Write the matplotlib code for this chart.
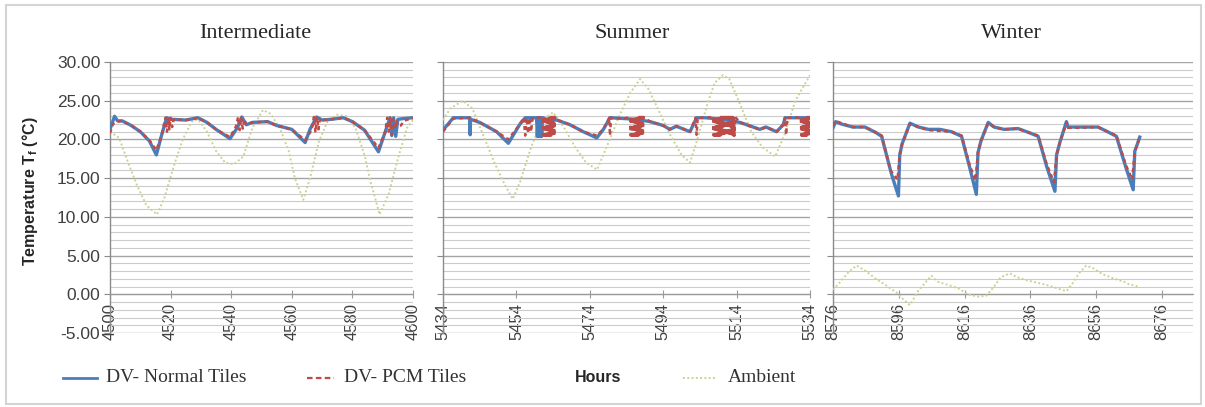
import numpy as np
import matplotlib
matplotlib.use("Agg")
import matplotlib.pyplot as plt
from matplotlib.lines import Line2D
from matplotlib.patches import Rectangle

# Intermediate season (hours 4500-4600)
int_h_normal = [4500, 4501.5, 4502.5, 4504, 4507, 4510, 4513, 4515.3, 4517, 4518.7, 4520, 4525, 4529, 4532,
                4535, 4539.6, 4542, 4543.5, 4545, 4547, 4552, 4555, 4560, 4564.4, 4566, 4568.2, 4570, 4573,
                4577, 4580, 4584, 4588.6, 4590.5, 4592.4, 4593, 4593.6, 4594.3, 4595, 4597, 4600]
int_normal = [21.3, 23.0, 22.4, 22.4, 21.8, 21.0, 19.8, 18.0, 20.5, 22.8, 22.6, 22.5, 22.8, 22.2,
              21.3, 20.1, 21.5, 22.9, 21.9, 22.2, 22.3, 21.8, 21.3, 19.6, 21.3, 22.9, 22.5, 22.6,
              22.8, 22.3, 21.2, 18.4, 20.6, 22.8, 20.5, 22.8, 20.4, 22.6, 22.7, 22.8]
int_h_pcm = [4500, 4501, 4502.5, 4504, 4507, 4510, 4513, 4515.3, 4517, 4518.3, 4518.8, 4519.2, 4519.6, 4520,
             4520.5, 4521, 4525, 4529, 4532, 4535, 4539.6, 4541.5, 4542.3, 4542.8, 4543.3, 4543.8, 4544.3,
             4545, 4547, 4552, 4555, 4560, 4564.4, 4566.5, 4567.3, 4567.8, 4568.3, 4568.8, 4569.3, 4570,
             4573, 4577, 4580, 4584, 4588.6, 4590.8, 4591.5, 4592, 4592.5, 4593, 4593.5, 4594, 4594.5,
             4595, 4596, 4597, 4600]
int_pcm = [20.8, 22.0, 22.3, 22.4, 21.8, 21.0, 19.9, 18.6, 20.5, 22.8, 21.0, 22.8, 21.3, 22.8,
           21.6, 22.6, 22.5, 22.8, 22.2, 21.3, 20.3, 21.6, 22.9, 21.2, 22.8, 21.4, 22.6,
           21.9, 22.2, 22.3, 21.8, 21.3, 19.9, 21.2, 22.9, 20.9, 22.8, 21.3, 22.7, 22.5,
           22.6, 22.8, 22.3, 21.2, 18.9, 20.9, 22.8, 21.0, 22.8, 20.6, 22.6, 21.3, 22.5,
           21.8, 21.8, 22.4, 22.8]
int_h_amb = [4500, 4503, 4506, 4509, 4512, 4515.5, 4518, 4521, 4524, 4527, 4529, 4532, 4535, 4538, 4541,
             4544, 4547, 4550.5, 4553, 4556, 4559, 4561, 4563.8, 4566, 4569, 4572, 4575, 4578, 4581,
             4584, 4586, 4589, 4592, 4595, 4598, 4600]
int_amb = [21.0, 20.2, 17.0, 14.0, 11.5, 10.3, 12.5, 16.5, 20.0, 22.3, 22.6, 21.0, 18.5, 17.0, 16.8,
           17.8, 21.5, 23.8, 23.3, 21.5, 18.5, 15.0, 12.2, 15.0, 19.8, 22.5, 23.2, 23.0, 21.5,
           18.0, 14.5, 10.3, 13.0, 17.5, 21.5, 22.5]

# Summer season (hours 5434-5534)
sum_h_normal = [5434, 5436.8, 5441.3, 5441.4, 5441.5, 5444, 5448.6, 5451.8, 5455, 5456.4, 5459.5, 5459.7,
                5459.9, 5460.1, 5460.3, 5460.5, 5460.7, 5460.9, 5461.1, 5461.3, 5462, 5465, 5468.6, 5472.2,
                5475.9, 5477.7, 5479.5, 5483.2, 5486.5, 5490.4, 5494, 5495.8, 5497.6, 5501.3, 5503.1,
                5505.5, 5510, 5514.9, 5518.5, 5520.3, 5522, 5524.9, 5526.7, 5527.2, 5530.4, 5534]
sum_normal = [21.2, 22.8, 22.8, 20.6, 22.6, 22.2, 21.0, 19.5, 22.0, 22.8, 22.8, 20.4,
              22.8, 20.4, 22.8, 20.4, 22.8, 20.4, 22.8, 22.8, 22.6, 22.5, 21.9, 21.0,
              20.2, 21.3, 22.8, 22.7, 22.6, 22.3, 21.8, 21.3, 21.7, 21.0, 22.8,
              22.8, 22.6, 22.2, 21.6, 21.3, 21.6, 21.0, 21.9, 22.8, 22.8, 22.8]
sum_h_pcm = [5434, 5436.8, 5441.3, 5444, 5448.6, 5451.8, 5455, 5456.0, 5456.4, 5456.8, 5457.2, 5457.6,
             5458.0, 5458.4, 5459.5,
             5461.20, 5461.35, 5461.50, 5461.65, 5461.80, 5461.95, 5462.10, 5462.25, 5462.40, 5462.55,
             5462.70, 5462.85, 5463.00, 5463.15, 5463.30, 5463.45, 5463.60, 5463.75, 5463.90, 5464.05,
             5464.20, 5464.35, 5464.50, 5464.8,
             5468.6, 5472.2, 5475.9, 5477.7, 5479.3, 5479.5, 5479.8, 5483.2,
             5485.00, 5485.15, 5485.30, 5485.45, 5485.60, 5485.75, 5485.90, 5486.05, 5486.20, 5486.35,
             5486.50, 5486.65, 5486.80, 5486.95, 5487.10, 5487.25, 5487.40, 5487.55, 5487.70, 5487.85,
             5488.00, 5488.15, 5488.30, 5488.45, 5488.60,
             5490.4, 5494, 5495.8, 5497.6, 5501.3, 5502.8, 5503.1, 5503.4, 5505.5,
             5507.60, 5507.75, 5507.90, 5508.05, 5508.20, 5508.35, 5508.50, 5508.65, 5508.80, 5508.95,
             5509.10, 5509.25, 5509.40, 5509.55, 5509.70, 5509.85, 5510.00, 5510.15, 5510.30, 5510.45,
             5510.60, 5510.75, 5510.90, 5511.05, 5511.20, 5511.35, 5511.50, 5511.65, 5511.80, 5511.95,
             5512.10, 5512.25, 5512.40, 5512.55, 5512.70, 5512.85, 5513.00, 5513.15, 5513.30, 5513.45,
             5513.60,
             5514.9, 5518.5, 5520.3, 5522, 5524.9, 5526.7, 5527.2, 5527.5, 5527.8, 5530.4,
             5531.50, 5531.65, 5531.80, 5531.95, 5532.10, 5532.25, 5532.40, 5532.55, 5532.70, 5532.85,
             5533.00, 5533.15, 5533.30, 5533.45, 5533.60, 5533.75, 5533.90, 5534]
sum_pcm = [21.0, 22.7, 22.8, 22.2, 21.0, 20.0, 22.0, 22.8, 20.5, 22.8, 20.8, 22.8,
           21.0, 22.7, 22.8,
           22.9, 20.5, 22.9, 20.5, 22.9, 20.5, 22.9, 20.5, 22.9, 20.5,
           22.9, 20.5, 22.9, 20.5, 22.9, 20.5, 22.9, 20.5, 22.9, 20.5,
           22.9, 20.5, 22.9, 22.6,
           21.9, 21.0, 20.5, 21.3, 22.8, 20.5, 22.8, 22.7,
           22.9, 20.5, 22.9, 20.5, 22.9, 20.5, 22.9, 20.5, 22.9, 20.5,
           22.9, 20.5, 22.9, 20.5, 22.9, 20.5, 22.9, 20.5, 22.9, 20.5,
           22.9, 20.5, 22.9, 20.5, 22.9,
           22.3, 21.8, 21.3, 21.7, 21.0, 22.8, 20.6, 22.8, 22.8,
           22.9, 20.5, 22.9, 20.5, 22.9, 20.5, 22.9, 20.5, 22.9, 20.5,
           22.9, 20.5, 22.9, 20.5, 22.9, 20.5, 22.9, 20.5, 22.9, 20.5,
           22.9, 20.5, 22.9, 20.5, 22.9, 20.5, 22.9, 20.5, 22.9, 20.5,
           22.9, 20.5, 22.9, 20.5, 22.9, 20.5, 22.9, 20.5, 22.9, 20.5,
           22.9,
           22.2, 21.6, 21.3, 21.6, 21.0, 21.9, 22.8, 20.6, 22.8, 22.8,
           22.9, 20.5, 22.9, 20.5, 22.9, 20.5, 22.9, 20.5, 22.9, 20.5,
           22.9, 20.5, 22.9, 20.5, 22.9, 20.5, 22.9, 20.6]
sum_h_amb = [5434, 5436, 5439.4, 5442, 5445, 5448, 5451, 5453, 5455, 5458, 5461, 5464, 5467, 5470, 5473,
             5476, 5479, 5482, 5485, 5487.7, 5490, 5493, 5496, 5499, 5501.3, 5503, 5506, 5508, 5510.3,
             5512, 5515, 5518, 5521, 5524.5, 5527, 5530, 5534]
sum_amb = [22.5, 24.0, 25.0, 24.0, 20.5, 17.0, 14.0, 12.3, 14.5, 19.0, 22.5, 23.5, 21.5, 19.0, 17.0,
           16.1, 19.5, 23.0, 26.0, 27.8, 26.5, 23.5, 20.5, 18.0, 17.0, 19.5, 24.5, 27.3, 28.3,
           27.8, 24.5, 21.0, 19.0, 17.8, 20.5, 25.0, 28.3]

# Winter season (hours 8576-8676)
win_h_normal = [8576, 8576.8, 8578.5, 8582, 8585.7, 8589, 8590.8, 8593.8, 8595.9, 8596.3, 8597, 8599.4,
                8602, 8605, 8608.5, 8612, 8615.1, 8617.5, 8619.6, 8620.1, 8621, 8623.2, 8625, 8628,
                8632.3, 8635.5, 8638.4, 8641, 8643.5, 8644, 8645, 8647, 8647.5, 8650, 8656.6, 8659.5,
                8662.2, 8665, 8667.3, 8667.8, 8668.5, 8669.3]
win_normal = [21.5, 22.3, 22.0, 21.6, 21.6, 20.9, 20.4, 15.5, 12.7, 18.0, 19.4, 22.1,
              21.6, 21.3, 21.3, 21.0, 20.4, 16.5, 12.9, 18.3, 19.8, 22.2, 21.6, 21.3,
              21.4, 20.9, 20.4, 16.5, 13.3, 18.0, 19.6, 22.3, 21.6, 21.6, 21.6, 21.0,
              20.4, 16.5, 13.5, 18.5, 19.3, 20.3]
win_h_pcm = [8576, 8576.8, 8578.5, 8582, 8585.7, 8589, 8590.8, 8593.5, 8595.6, 8596.3, 8597, 8599.4,
             8602, 8605, 8608.5, 8612, 8615.1, 8617.5, 8619.3, 8620.1, 8621, 8623.2, 8625, 8628,
             8632.3, 8635.5, 8638.4, 8641, 8643.2, 8644, 8645, 8647, 8647.5, 8650, 8656.6, 8659.5,
             8662.2, 8665, 8667.0, 8667.8, 8668.5, 8669.3]
win_pcm = [21.8, 22.4, 22.1, 21.6, 21.6, 20.9, 20.5, 16.0, 14.8, 18.0, 19.4, 22.0,
           21.6, 21.2, 21.1, 21.0, 20.5, 16.8, 14.7, 18.3, 19.8, 22.1, 21.6, 21.3,
           21.4, 20.9, 20.5, 16.8, 14.5, 18.0, 19.6, 22.2, 21.5, 21.5, 21.6, 21.0,
           20.5, 16.8, 14.8, 18.5, 19.3, 20.3]
win_h_amb = [8576, 8578, 8581, 8583.2, 8586, 8589, 8592, 8595.4, 8597, 8599.4, 8602, 8605.9, 8608, 8611,
             8614, 8617, 8620, 8622.6, 8625, 8627, 8629.8, 8632, 8635, 8638, 8641, 8644, 8647, 8649,
             8651, 8653, 8655, 8658, 8661, 8664.6, 8666, 8668.8]
win_amb = [0.6, 1.5, 3.0, 3.7, 3.0, 2.0, 1.2, 0.2, -0.5, -1.4, 0.5, 2.4, 1.6, 1.2,
           0.8, 0.0, -0.3, -0.2, 1.0, 2.2, 2.7, 2.2, 1.8, 1.5, 1.2, 0.8, 0.4, 1.5,
           2.8, 3.7, 3.4, 2.6, 2.1, 1.6, 1.3, 1.0]

titles = ["Intermediate", "Summer", "Winter"]
x_starts = [4500, 5434, 8576]
x_limits = [(4500, 4600), (5434, 5534), (8576, 8685.5)]

NORMAL = "#4a7ebb"
PCM = "#be4b48"
AMB = "#cbd296"
GRID_MAJOR = "#a4a4a4"
GRID_MINOR = "#cbcbcb"
TXT = "#404040"
DASH = (0, (1.6, 1.4))

W, H = 1205, 407


def fx(x):
    return x / W


def fy(y):
    return 1 - y / H


fig = plt.figure(figsize=(W / 100, H / 100), dpi=100)

# axes boxes in pixels: left, right; all share top (30) at y=62 and bottom (-5) at y=333
boxes = [(110, 413), (443, 810), (833, 1193)]
title_x = [255, 632, 1011]
series = [
    (int_h_normal, int_normal, int_h_pcm, int_pcm, int_h_amb, int_amb),
    (sum_h_normal, sum_normal, sum_h_pcm, sum_pcm, sum_h_amb, sum_amb),
    (win_h_normal, win_normal, win_h_pcm, win_pcm, win_h_amb, win_amb),
]

for i, (x0, x1) in enumerate(boxes):
    ax = fig.add_axes([fx(x0), fy(333), (x1 - x0) / W, (333 - 62) / H])
    hn, tn, hp, tp, ha, ta = series[i]
    ax.plot(ha, ta, color=AMB, lw=1.4, ls=(0, (1, 1.2)), zorder=3)
    ax.plot(hn, tn, color=NORMAL, lw=2.4, zorder=4)
    ax.plot(hp, tp, color=PCM, lw=1.8, ls=DASH, zorder=5)

    ax.set_xlim(*x_limits[i])
    ax.set_ylim(-5, 30)
    ax.set_yticks(np.arange(-5, 31, 5))
    ax.set_yticks(np.arange(-5, 31, 1), minor=True)
    ax.grid(axis="y", which="major", color=GRID_MAJOR, lw=1.0)
    ax.grid(axis="y", which="minor", color=GRID_MINOR, lw=0.8)
    ax.set_axisbelow(True)
    ax.set_xticks(np.arange(x_starts[i], x_starts[i] + 101, 20))

    for s in ["top", "right"]:
        ax.spines[s].set_visible(False)
    ax.spines["bottom"].set_position(("data", 0))
    ax.spines["bottom"].set_color("#9a9a9a")
    ax.spines["left"].set_color("#8a8a8a")
    ax.spines["left"].set_linewidth(1.0)

    ax.tick_params(axis="y", which="minor", length=0)
    ax.tick_params(axis="y", which="major", direction="out", length=4, color="#8a8a8a",
                   labelsize=12.5, labelcolor=TXT, pad=3, labelleft=(i == 0))
    ax.tick_params(axis="x", direction="inout", length=6, color="#9a9a9a",
                   labelsize=12, labelcolor=TXT, pad=3, labelrotation=90)
    if i == 0:
        ax.set_yticklabels(["%.2f" % v for v in np.arange(-5, 31, 5)])
    for lab in ax.get_xticklabels() + ax.get_yticklabels():
        lab.set_fontfamily("Liberation Sans")
    ax.patch.set_alpha(0)

    fig.text(fx(title_x[i]), fy(33), titles[i], ha="center", va="center",
             fontfamily="Liberation Serif", fontsize=16, color="#262626")

fig.text(fx(30), fy(191), "Temperature T$_\\mathregular{f}$ (°C)", rotation=90,
         ha="center", va="center", fontfamily="Liberation Sans", fontweight="bold",
         fontsize=11.5, color="#262626")

# legend row along the bottom
fig.add_artist(Line2D([fx(63), fx(97)], [fy(378), fy(378)], color=NORMAL, lw=2.0))
fig.text(fx(106), fy(378), "DV- Normal Tiles", va="center", fontfamily="Liberation Serif",
         fontsize=14, color="#333333")
fig.add_artist(Line2D([fx(307), fx(334)], [fy(378), fy(378)], color=PCM, lw=1.6,
                      ls=(0, (2.5, 1.5))))
fig.text(fx(344), fy(378), "DV- PCM Tiles", va="center", fontfamily="Liberation Serif",
         fontsize=14, color="#333333")
fig.text(fx(598), fy(378), "Hours", ha="center", va="center", fontfamily="Liberation Sans",
         fontweight="bold", fontsize=11.5, color="#262626")
fig.add_artist(Line2D([fx(683), fx(717)], [fy(378), fy(378)], color=AMB, lw=1.4,
                      ls=(0, (1, 1.2))))
fig.text(fx(728), fy(378), "Ambient", va="center", fontfamily="Liberation Serif",
         fontsize=14, color="#333333")

# outer frame
fig.add_artist(Rectangle((fx(6), fy(404)), (1201 - 6) / W, (404 - 5) / H, fill=False,
                         edgecolor="#d4d4d4", lw=1.5, transform=fig.transFigure))

fig.savefig("out.png", dpi=100)
